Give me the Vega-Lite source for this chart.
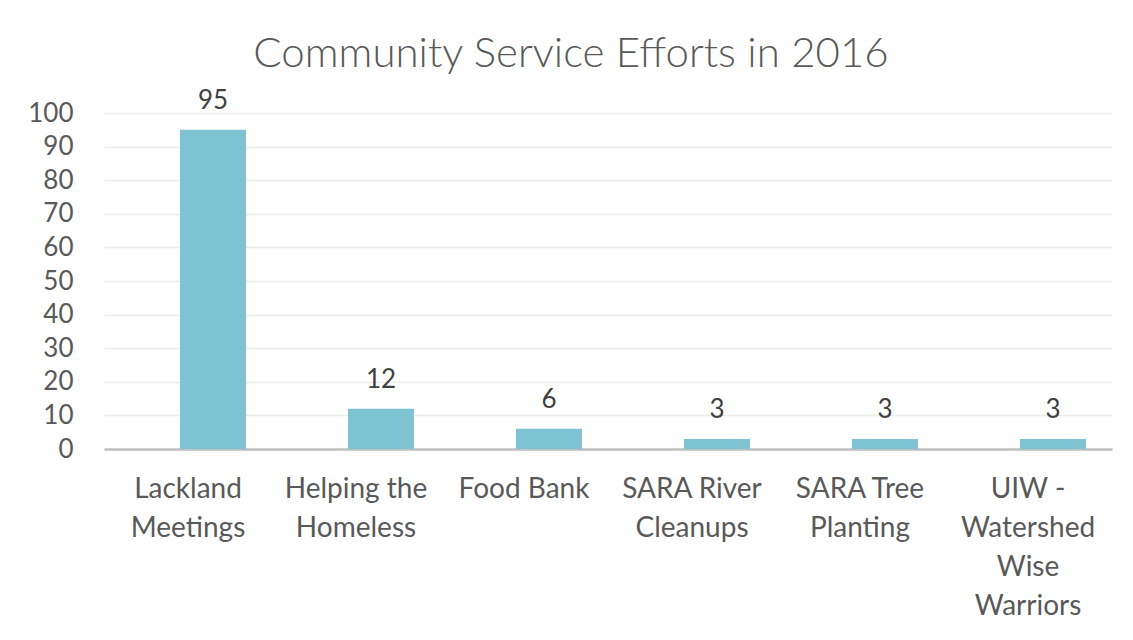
{
  "$schema": "https://vega.github.io/schema/vega-lite/v6.json",
  "width": 1008,
  "height": 336,
  "autosize": {"type": "none"},
  "padding": {"left": 104, "top": 113, "right": 21, "bottom": 191},
  "background": "white",
  "title": {
    "text": "Community Service Efforts in 2016",
    "font": "Lato",
    "fontSize": 42,
    "fontWeight": 300,
    "color": "#595959",
    "anchor": "middle",
    "frame": "group",
    "baseline": "alphabetic",
    "offset": -21,
    "dx": -37
  },
  "data": {
    "values": [
      {"activity": "Lackland Meetings", "count": 95},
      {"activity": "Helping the Homeless", "count": 12},
      {"activity": "Food Bank", "count": 6},
      {"activity": "SARA River Cleanups", "count": 3},
      {"activity": "SARA Tree Planting", "count": 3},
      {"activity": "UIW - Watershed Wise Warriors", "count": 3}
    ]
  },
  "encoding": {
    "x": {
      "field": "activity",
      "type": "nominal",
      "sort": null,
      "scale": {"paddingInner": 0.607, "paddingOuter": 0.3035},
      "axis": {
        "title": null,
        "labelAngle": 0,
        "labelExpr": "datum.value == 'Lackland Meetings' ? ['Lackland','Meetings'] : datum.value == 'Helping the Homeless' ? ['Helping the','Homeless'] : datum.value == 'SARA River Cleanups' ? ['SARA River','Cleanups'] : datum.value == 'SARA Tree Planting' ? ['SARA Tree','Planting'] : datum.value == 'UIW - Watershed Wise Warriors' ? ['UIW -','Watershed','Wise','Warriors'] : datum.value",
        "labelFont": "Lato",
        "labelFontSize": 28,
        "labelColor": "#595959",
        "labelLineHeight": 39,
        "labelPadding": 26,
        "labelLimit": 0,
        "labelOverlap": false,
        "ticks": false,
        "domainColor": "#bfbfbf",
        "domainWidth": 2.5
      }
    },
    "y": {
      "field": "count",
      "type": "quantitative",
      "scale": {"domain": [0, 100], "nice": false},
      "axis": {
        "title": null,
        "values": [0, 10, 20, 30, 40, 50, 60, 70, 80, 90, 100],
        "domain": false,
        "ticks": false,
        "grid": true,
        "gridColor": "#ececec",
        "gridWidth": 1.5,
        "labelFont": "Lato",
        "labelFontSize": 26,
        "labelColor": "#595959",
        "labelPadding": 31
      }
    }
  },
  "layer": [
    {"mark": {"type": "bar", "color": "#7fc3d3", "xOffset": 25}},
    {
      "mark": {
        "type": "text",
        "xOffset": 25,
        "dy": -21,
        "baseline": "alphabetic",
        "font": "Lato",
        "fontSize": 26,
        "color": "#404040"
      },
      "encoding": {"text": {"field": "count", "type": "quantitative"}}
    }
  ],
  "config": {"view": {"stroke": null}}
}
